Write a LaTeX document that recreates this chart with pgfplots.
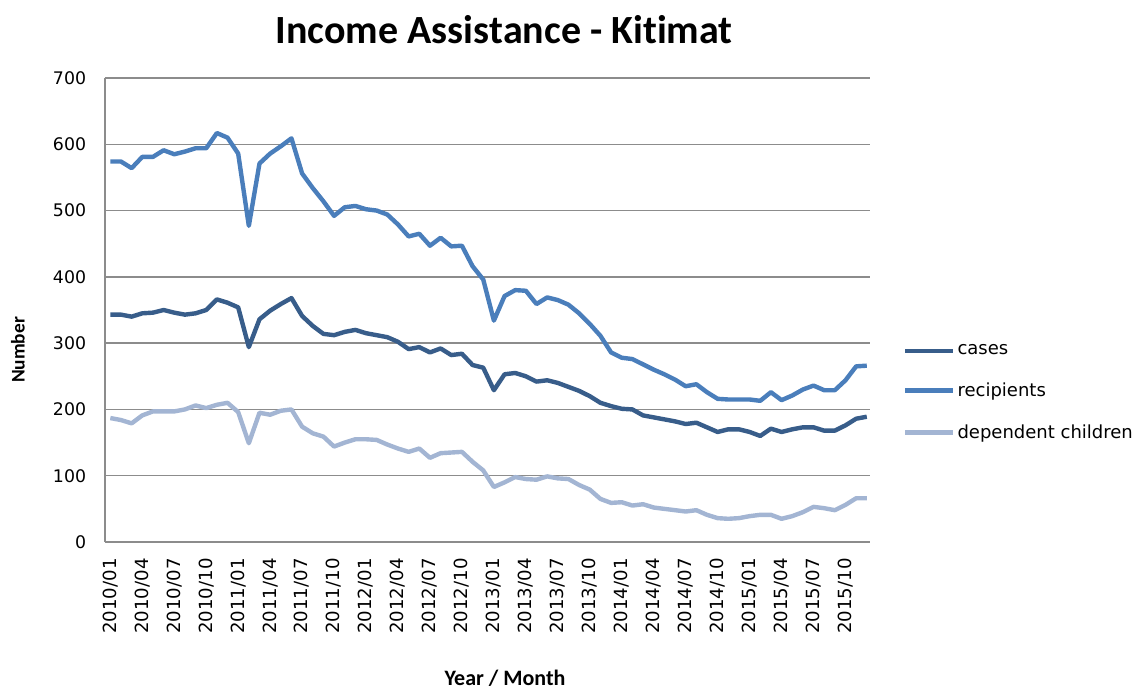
\documentclass[border=0pt]{standalone}
\usepackage{pgfplots}
\pgfplotsset{compat=1.18}
\usepackage{pgfplotstable}
\usepackage{fontspec}
\setmainfont{DejaVu Sans}
\newfontfamily\carlito[Ligatures={NoCommon,NoContextual},RawFeature={-liga;-clig;-dlig}]{Carlito}
\definecolor{casesc}{RGB}{56,93,138}
\definecolor{recipc}{RGB}{74,126,187}
\definecolor{depc}{RGB}{163,181,211}
\definecolor{gridc}{RGB}{140,140,140}

\pgfplotstableread{
i cases recipients dependent
0 343 574 187
1 343 574 184
2 340 564 179
3 345 581 191
4 346 581 197
5 350 591 197
6 346 585 197
7 343 589 200
8 345 594 206
9 350 594 202
10 366 617 207
11 361 610 210
12 354 586 196
13 294 477 149
14 336 571 195
15 349 586 192
16 359 597 198
17 368 609 200
18 341 556 174
19 326 534 164
20 314 514 159
21 312 492 144
22 317 505 150
23 320 507 155
24 315 502 155
25 312 500 154
26 309 494 147
27 302 479 141
28 291 461 136
29 294 465 141
30 286 447 127
31 292 459 134
32 282 446 135
33 284 447 136
34 267 416 121
35 263 396 108
36 229 334 83
37 253 371 90
38 255 380 98
39 250 379 95
40 242 359 94
41 244 369 99
42 240 365 96
43 234 358 95
44 228 345 86
45 220 329 79
46 210 311 65
47 205 286 59
48 201 278 60
49 200 276 55
50 191 268 57
51 188 260 52
52 185 253 50
53 182 245 48
54 178 235 46
55 180 238 48
56 173 226 41
57 166 216 36
58 170 215 35
59 170 215 36
60 166 215 39
61 160 213 41
62 171 226 41
63 166 214 35
64 170 221 39
65 173 230 45
66 173 236 53
67 168 229 51
68 168 229 48
69 176 244 56
70 186 265 66
71 189 266 66
}\datatable

\begin{document}
\begin{tikzpicture}
\useasboundingbox (-78.75pt,-110.25pt) rectangle (775.5pt,406.5pt);
\begin{axis}[
  at={(0pt,0pt)}, anchor=south west,
  scale only axis,
  width=573.75pt, height=348pt,
  xmin=-0.5, xmax=71.3,
  ymin=0, ymax=700,
  ytick={0,100,...,700},
  xtick={0,3,...,69},
  xticklabels={2010/01,2010/04,2010/07,2010/10,2011/01,2011/04,2011/07,2011/10,2012/01,2012/04,2012/07,2012/10,2013/01,2013/04,2013/07,2013/10,2014/01,2014/04,2014/07,2014/10,2015/01,2015/04,2015/07,2015/10},
  /pgf/number format/assume math mode=true,
  axis x line*=bottom, axis y line*=left,
  axis line style={-, gridc, line width=1.1pt},
  major tick length=0pt,
  ymajorgrids,
  grid style={gridc, line width=1pt},
  yticklabel style={font=\fontsize{13}{15}\selectfont, anchor=east, inner sep=0pt, xshift=-14pt},
  xticklabel style={font=\fontsize{13.6}{15}\selectfont, rotate=90, anchor=east, inner sep=0pt, xshift=-12pt},
  legend cell align=left,
  legend style={draw=none, fill=none, at={(1.043,0.43)}, anchor=north west,
    font=\fontsize{13.5}{16}\selectfont, inner sep=0pt, row sep=16.5pt,
    nodes={inner sep=1.5pt}},
  legend image code/.code={\draw[#1, line width=3.3pt] (0pt,0pt) -- (36pt,0pt);},
]
\addplot[casesc, line width=3.3pt, line join=round, no marks] table[x=i, y=cases] {\datatable};
\addlegendentry{cases}
\addplot[recipc, line width=3.3pt, line join=round, no marks] table[x=i, y=recipients] {\datatable};
\addlegendentry{recipients}
\addplot[depc, line width=3.3pt, line join=round, no marks] table[x=i, y=dependent] {\datatable};
\addlegendentry{dependent children}
\end{axis}
\node[font=\carlito\bfseries\fontsize{30}{36}\selectfont] at (299.25pt,384pt) {Income Assis\kern0pt t\kern0pt ance - Ki\kern0pt t\kern0pt imat};
\node[font=\carlito\bfseries\fontsize{14.5}{17}\selectfont, rotate=90] at (-65.25pt,144pt) {Number};
\node[font=\carlito\bfseries\fontsize{16.5}{19}\selectfont] at (300pt,-102pt) {Year / Month};
\end{tikzpicture}
\end{document}
